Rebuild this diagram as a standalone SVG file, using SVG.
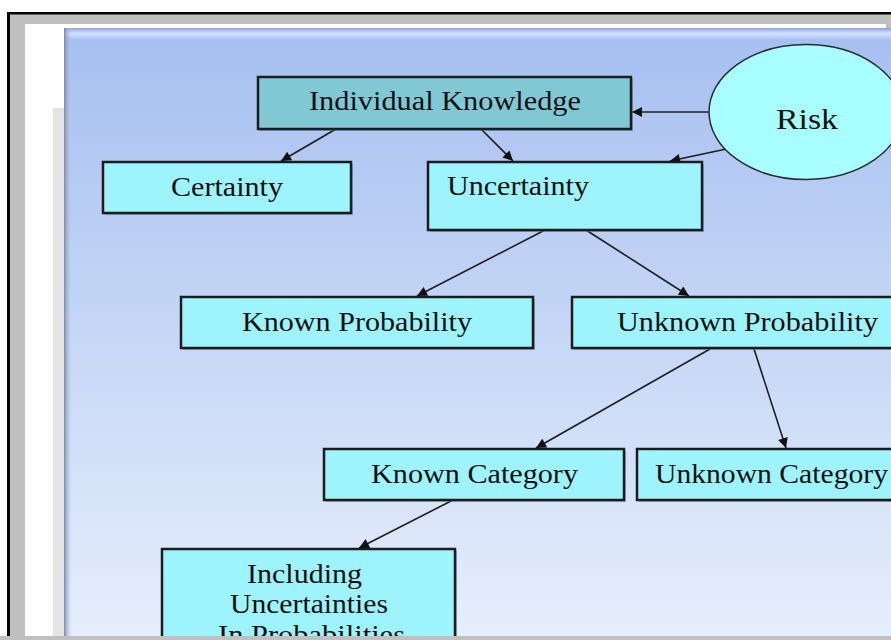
<svg xmlns="http://www.w3.org/2000/svg" width="891" height="640" viewBox="0 0 891 640">
<style>
.box{fill:#9df4fc;stroke:#1c1c1c;stroke-width:2.5}
.shadow{fill:#6a7f9a;opacity:0.55}
.lbl{font-family:"Liberation Serif","Times New Roman",serif;font-size:27px;fill:#111}
.edge{stroke:#1e1e1e;stroke-width:1.6;fill:none;marker-end:url(#ah)}
</style>
<defs>
<linearGradient id="panel" x1="0" y1="0" x2="0" y2="1">
<stop offset="0" stop-color="#a6bff0"/>
<stop offset="0.5" stop-color="#c6d7f6"/>
<stop offset="1" stop-color="#e6eefc"/>
</linearGradient>
<linearGradient id="bevelTop" x1="0" y1="0" x2="0" y2="1">
<stop offset="0" stop-color="#8aa3dc"/>
<stop offset="0.45" stop-color="#d2e2ff"/>
<stop offset="1" stop-color="#a8c1f0"/>
</linearGradient>
<linearGradient id="bevelLeft" x1="0" y1="0" x2="1" y2="0">
<stop offset="0" stop-color="#7d8aa6"/>
<stop offset="1" stop-color="#c0d0f0" stop-opacity="0"/>
</linearGradient>
<marker id="ah" viewBox="0 0 10 10" refX="10" refY="5" markerWidth="11" markerHeight="10" markerUnits="userSpaceOnUse" orient="auto">
<path d="M0,0 L10,5 L0,10 z" fill="#111"/>
</marker>
</defs>
<rect x="0" y="0" width="891" height="640" fill="#ffffff"/>
<rect x="7" y="12" width="884" height="628" fill="#000000"/>
<rect x="10" y="14.5" width="881" height="625.5" fill="#c0c0c0"/>
<rect x="25" y="24" width="861" height="612" fill="#ffffff"/>
<rect x="53" y="108" width="11" height="528" fill="#e4e4e4"/>
<rect x="64" y="28" width="827" height="608" fill="url(#panel)"/>
<rect x="64" y="28" width="827" height="12" fill="url(#bevelTop)"/>
<rect x="64" y="28" width="8" height="608" fill="url(#bevelLeft)"/>
<rect x="0" y="636" width="891" height="4" fill="#c0c0c0"/>

<g id="connectors">
<line class="edge" x1="709" y1="112" x2="632" y2="112"/>
<line class="edge" x1="731" y1="148" x2="670" y2="161"/>
<line class="edge" x1="336" y1="129" x2="281" y2="161"/>
<line class="edge" x1="481" y1="129" x2="513" y2="161"/>
<line class="edge" x1="545" y1="230" x2="417" y2="296"/>
<line class="edge" x1="586" y1="230" x2="689" y2="296"/>
<line class="edge" x1="710" y1="349" x2="536" y2="448"/>
<line class="edge" x1="754" y1="349" x2="786" y2="448"/>
<line class="edge" x1="453" y1="500" x2="359" y2="548"/>
</g>

<g id="risk">
<ellipse cx="806" cy="112" rx="97" ry="67.5" fill="#a8ffff" stroke="#2a2a2a" stroke-width="1.5"/>
<text class="lbl" x="776" y="129" font-size="30" style="font-size:30px" textLength="62" lengthAdjust="spacingAndGlyphs">Risk</text>
</g>

<g id="individual-knowledge">
<rect class="shadow" x="260" y="79" width="373" height="52"/>
<rect x="258" y="77" width="373" height="52" fill="#80c9d4" stroke="#1c1c1c" stroke-width="2.5"/>
<text class="lbl" x="309" y="110" textLength="272" lengthAdjust="spacingAndGlyphs">Individual Knowledge</text>
</g>

<g id="certainty">
<rect class="shadow" x="105" y="164" width="248" height="51"/>
<rect class="box" x="103" y="162" width="248" height="51"/>
<text class="lbl" x="171" y="196" textLength="112" lengthAdjust="spacingAndGlyphs">Certainty</text>
</g>

<g id="uncertainty">
<rect class="shadow" x="430" y="164" width="274" height="68"/>
<rect class="box" x="428" y="162" width="274" height="68"/>
<text class="lbl" x="447" y="195" textLength="142" lengthAdjust="spacingAndGlyphs">Uncertainty</text>
</g>

<g id="known-probability">
<rect class="shadow" x="183" y="299" width="352" height="51"/>
<rect class="box" x="181" y="297" width="352" height="51"/>
<text class="lbl" x="242" y="331" textLength="230" lengthAdjust="spacingAndGlyphs">Known Probability</text>
</g>

<g id="unknown-probability">
<rect class="shadow" x="574" y="299" width="330" height="51"/>
<rect class="box" x="572" y="297" width="330" height="51"/>
<text class="lbl" x="617" y="331" textLength="261" lengthAdjust="spacingAndGlyphs">Unknown Probability</text>
</g>

<g id="known-category">
<rect class="shadow" x="326" y="451" width="300" height="51"/>
<rect class="box" x="324" y="449" width="300" height="51"/>
<text class="lbl" x="371" y="483" textLength="207" lengthAdjust="spacingAndGlyphs">Known Category</text>
</g>

<g id="unknown-category">
<rect class="shadow" x="639" y="451" width="270" height="51"/>
<rect class="box" x="637" y="449" width="270" height="51"/>
<text class="lbl" x="655" y="483" textLength="233" lengthAdjust="spacingAndGlyphs">Unknown Category</text>
</g>

<g id="including-uncertainties">
<rect class="shadow" x="164" y="551" width="293" height="100"/>
<rect class="box" x="162" y="549" width="293" height="100"/>
<text class="lbl" x="247" y="583" textLength="115" lengthAdjust="spacingAndGlyphs">Including</text>
<text class="lbl" x="230" y="613" textLength="158" lengthAdjust="spacingAndGlyphs">Uncertainties</text>
<text class="lbl" x="218" y="644" textLength="187" lengthAdjust="spacingAndGlyphs">In Probabilities</text>
</g>

<rect x="0" y="636" width="891" height="4" fill="#c0c0c0"/>
</svg>
